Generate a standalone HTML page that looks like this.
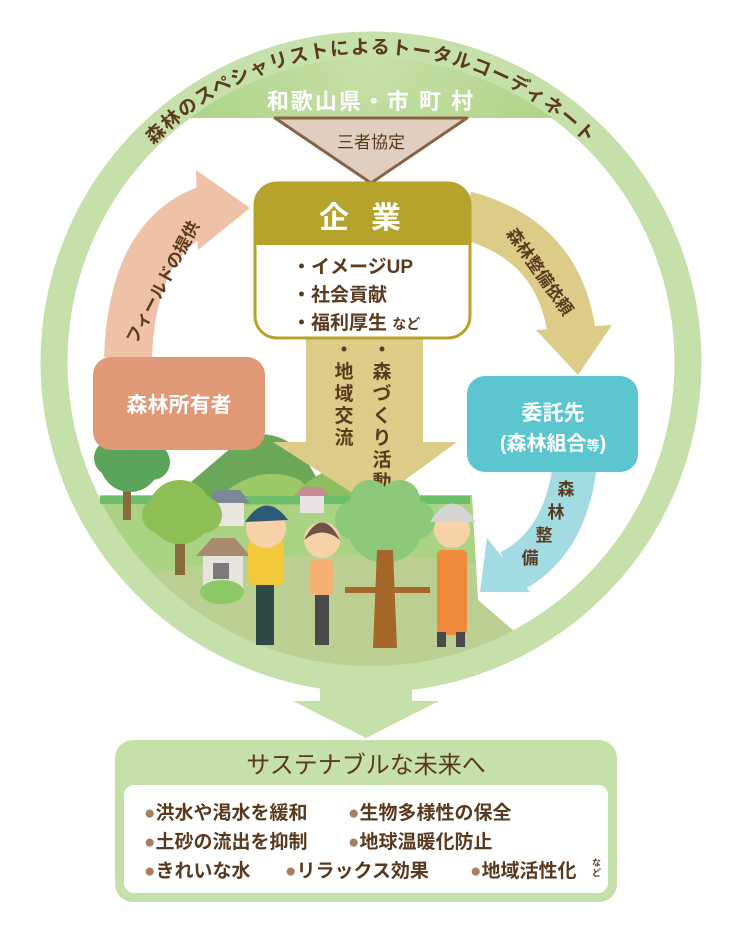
<!DOCTYPE html>
<html><head><meta charset="utf-8"><style>
html,body{margin:0;padding:0;background:#fff;}
svg{display:block;font-family:"Liberation Sans","Noto Sans CJK JP",sans-serif;}
</style></head><body>
<svg width="749" height="937" viewBox="0 0 749 937" xmlns="http://www.w3.org/2000/svg">
<defs>
<radialGradient id="dome" cx="0.5" cy="0" r="0.9">
<stop offset="0" stop-color="#c7e0a6"/><stop offset="0.6" stop-color="#9ccb72"/><stop offset="1" stop-color="#6fae45"/>
</radialGradient>
<clipPath id="ground"><path d="M100 495 L472 495 L478 600 L530 645 Q371 710 200 645 Q125 600 100 545 Z"/></clipPath>
<clipPath id="inner"><circle cx="371" cy="362" r="304"/></clipPath>
<clipPath id="top"><rect x="0" y="0" width="749" height="118"/></clipPath>
<path id="arc" d="M 95 214 A 311 311 0 0 1 647 214"/>
</defs>

<!-- outer ring -->
<circle cx="371" cy="362" r="317" fill="none" stroke="#c5e0a8" stroke-width="27"/>
<!-- dome -->
<g clip-path="url(#top)"><circle cx="371" cy="362" r="304" fill="url(#dome)"/></g>
<text font-size="19" fill="#5a3a1e" font-weight="bold" letter-spacing="1.8" dy="7"><textPath href="#arc" startOffset="50%" text-anchor="middle">森林のスペシャリストによるトータルコーディネート</textPath></text>
<text x="371" y="109" font-size="22" font-weight="bold" fill="#fff" text-anchor="middle" letter-spacing="2">和歌山県・市 町 村</text>

<!-- scene ground -->
<g clip-path="url(#inner)"><g clip-path="url(#ground)">
<rect x="0" y="490" width="749" height="220" fill="#a9d282"/>
<ellipse cx="340" cy="640" rx="300" ry="85" fill="#bccf93"/>
</g></g>
<path d="M170 500 L240 440 Q270 425 300 450 L330 500 Z" fill="#6aa858"/>
<path d="M210 505 Q255 460 300 480 Q315 495 320 505Z" fill="#9cc866"/>
<path d="M290 500 Q330 450 375 480 L400 505Z" fill="#8cbd5e"/>
<rect x="100" y="496" width="370" height="8" fill="#6cbf6a"/>
<!-- houses -->
<rect x="212" y="502" width="32" height="24" fill="#e8e6de"/><polygon points="206,503 250,503 240,490 216,490" fill="#7c8896"/>
<rect x="300" y="495" width="24" height="18" fill="#e9e1e4"/><polygon points="296,496 328,496 322,487 302,487" fill="#c98a94"/>
<rect x="203" y="555" width="40" height="35" fill="#e6e4dc"/><polygon points="196,556 250,556 235,538 212,538" fill="#a78b70"/>
<rect x="213" y="563" width="16" height="16" fill="#7a7a7a"/>
<ellipse cx="222" cy="592" rx="22" ry="12" fill="#8cc866"/>
<!-- trees -->
<rect x="123" y="470" width="8" height="50" fill="#8a6a3a"/>
<circle cx="130" cy="462" r="30" fill="#5aa55a"/>
<circle cx="112" cy="458" r="18" fill="#5aa55a"/><circle cx="152" cy="462" r="18" fill="#5aa55a"/>
<rect x="175" y="520" width="10" height="55" fill="#8a6a3a"/>
<circle cx="180" cy="512" r="32" fill="#8dbf55"/>
<circle cx="160" cy="515" r="18" fill="#8dbf55"/><circle cx="204" cy="515" r="18" fill="#8dbf55"/>

<!-- pink arrow -->
<path d="M128 358 Q132 238 205 210" fill="none" stroke="#efc1a7" stroke-width="48"/>
<polygon points="196,170 250,208 198,250" fill="#efc1a7"/>
<text transform="translate(168,285) rotate(-62)" font-size="17" fill="#5a3a1e" text-anchor="middle" font-weight="bold">フィールドの提供</text>

<!-- tan right arrow -->
<path d="M465 215 Q560 240 572 335" fill="none" stroke="#dccc87" stroke-width="48"/>
<polygon points="536,330 578,375 612,325" fill="#dccc87"/>
<text transform="translate(535,275) rotate(55)" font-size="17" fill="#5a3a1e" text-anchor="middle" font-weight="bold">森林整備依頼</text>

<!-- cyan arrow -->
<path d="M575 465 Q565 545 510 572" fill="none" stroke="#a3dbe3" stroke-width="44"/>
<polygon points="487,538 480,592 530,592" fill="#a3dbe3"/>
<g font-size="17" fill="#5a3a1e" font-weight="bold" text-anchor="middle">
<text x="566" y="495">森</text><text x="556" y="518">林</text><text x="544" y="541">整</text><text x="530" y="564">備</text>
</g>

<!-- down arrow -->
<rect x="306" y="330" width="117" height="120" fill="#dccc87"/>
<polygon points="273,442 457,442 371,505" fill="#dccc87"/>
<g font-size="19" font-weight="bold" fill="#5a3a1e" text-anchor="middle">
<text x="344" y="356">・</text>
<text x="344" y="378">地</text><text x="344" y="400">域</text><text x="344" y="422">交</text><text x="344" y="444">流</text>
<text x="382" y="356">・</text>
<text x="382" y="378">森</text><text x="382" y="400">づ</text><text x="382" y="422">く</text><text x="382" y="444">り</text><text x="382" y="466">活</text><text x="382" y="488">動</text>
</g>

<!-- 三者協定 triangle -->
<polygon points="275,118 467,118 371,183" fill="#e0cfc0" stroke="#8b6240" stroke-width="3" stroke-linejoin="round"/>
<text x="371" y="148" font-size="17" fill="#5a3a1e" text-anchor="middle">三者協定</text>

<!-- company -->
<rect x="255" y="183" width="215" height="155" rx="22" fill="#fff" stroke="#b5a32b" stroke-width="3"/>
<path d="M255 245 V205 Q255 183 277 183 H448 Q470 183 470 205 V245 Z" fill="#b5a32b"/>
<text x="371" y="228" font-size="30" font-weight="bold" fill="#fff" text-anchor="middle" letter-spacing="22">企業</text>
<g font-size="19" fill="#5a3a1e" font-weight="bold">
<text x="292" y="273">・イメージUP</text>
<text x="292" y="301">・社会貢献</text>
<text x="292" y="329">・福利厚生 <tspan font-size="14">など</tspan></text>
</g>

<!-- owner box -->
<rect x="93" y="357" width="172" height="93" rx="18" fill="#e09877"/>
<text x="179" y="412" font-size="21" font-weight="bold" fill="#fff" text-anchor="middle">森林所有者</text>

<!-- cyan box -->
<rect x="467" y="376" width="171" height="96" rx="18" fill="#5bc6d0"/>
<text x="553" y="420" font-size="21" font-weight="bold" fill="#fff" text-anchor="middle">委託先</text>
<text x="553" y="450" font-size="20" font-weight="bold" fill="#fff" text-anchor="middle">(森林組合<tspan font-size="13">等</tspan>)</text>

<!-- big tree -->
<circle cx="385" cy="525" r="38" fill="#8cc87a"/>
<circle cx="355" cy="520" r="20" fill="#8cc87a"/><circle cx="415" cy="520" r="20" fill="#8cc87a"/>
<circle cx="370" cy="500" r="20" fill="#8cc87a"/><circle cx="400" cy="500" r="20" fill="#8cc87a"/>
<polygon points="377,550 393,550 397,648 373,648" fill="#a8672a"/>
<path d="M345 590 L430 590" stroke="#a8672a" stroke-width="6"/>

<!-- person 1 -->
<rect x="256" y="570" width="18" height="75" fill="#2f4a46"/>
<rect x="248" y="540" width="36" height="45" rx="6" fill="#f4c83b"/>
<circle cx="266" cy="528" r="20" fill="#f7d2a8"/>
<path d="M245 522 Q266 490 288 520 Z" fill="#2d5a75"/>
<!-- person 2 -->
<rect x="315" y="590" width="14" height="55" fill="#4a4a4a"/>
<rect x="310" y="560" width="24" height="35" rx="5" fill="#f6b071"/>
<circle cx="322" cy="540" r="18" fill="#f7d2a8"/>
<path d="M304 540 Q322 505 340 540 Q322 525 304 540Z" fill="#6b5446"/>
<!-- person 3 -->
<rect x="437" y="550" width="30" height="85" rx="5" fill="#f08a3a"/>
<circle cx="452" cy="530" r="18" fill="#f7d2a8"/>
<path d="M430 522 Q452 485 476 522 Z" fill="#d4d4d4"/>
<rect x="437" y="632" width="9" height="15" fill="#4a4a4a"/><rect x="456" y="632" width="9" height="15" fill="#4a4a4a"/>

<!-- bottom arrow -->
<rect x="320" y="680" width="92" height="25" fill="#c5e0a8"/>
<polygon points="293,701 439,701 366,738" fill="#c5e0a8"/>

<!-- bottom box -->
<rect x="115" y="740" width="502" height="162" rx="18" fill="#c5e0a8"/>
<rect x="124" y="785" width="484" height="108" rx="10" fill="#fff"/>
<text x="366" y="773" font-size="24" fill="#5a3a1e" text-anchor="middle">サステナブルな未来へ</text>
<g font-size="19" fill="#5a3a1e" font-weight="bold">
<text x="144" y="819"><tspan fill="#a97d5f">●</tspan>洪水や渇水を緩和</text>
<text x="348" y="819"><tspan fill="#a97d5f">●</tspan>生物多様性の保全</text>
<text x="144" y="848"><tspan fill="#a97d5f">●</tspan>土砂の流出を抑制</text>
<text x="348" y="848"><tspan fill="#a97d5f">●</tspan>地球温暖化防止</text>
<text x="144" y="877"><tspan fill="#a97d5f">●</tspan>きれいな水</text>
<text x="285" y="877"><tspan fill="#a97d5f">●</tspan>リラックス効果</text>
<text x="470" y="877"><tspan fill="#a97d5f">●</tspan>地域活性化</text>
<text x="592" y="866" font-size="9">な</text><text x="592" y="876" font-size="9">ど</text>
</g>
</svg>
</body></html>
